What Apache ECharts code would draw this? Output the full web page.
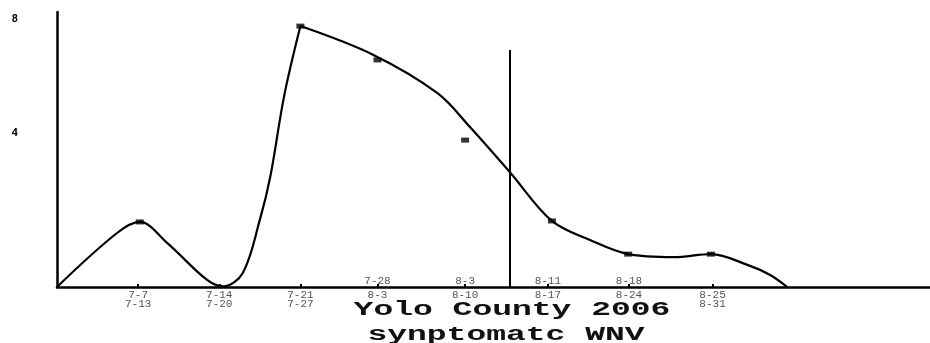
<!DOCTYPE html>
<html>
<head>
<meta charset="utf-8">
<script src="https://cdn.jsdelivr.net/npm/echarts@6/dist/echarts.min.js"></script>
<style>
  html, body { margin: 0; padding: 0; background: #fff; }
  #chart { width: 930px; height: 343px; }
</style>
</head>
<body>
<div id="chart"></div>
<script>
// week positions on the x axis as drawn (the original spacing is uneven)
var weekPos  = [1.0, 2.0, 3.0, 3.95, 5.03, 6.05, 7.05, 8.08];
// labels per week: above the axis, first and second row below
var weekTop  = ['', '', '', '7-28', '8-3', '8-11', '8-18', ''];
var weekRow1 = ['7-7', '7-14', '7-21', '8-3', '8-10', '8-17', '8-24', '8-25'];
var weekRow2 = ['7-13', '7-20', '7-27', '', '', '', '', '8-31'];

// weekly case counts (markers)
var caseWeeks = [1.02, 3.0, 3.95, 5.03, 6.1, 7.04, 8.06];
var caseCounts = [1.94, 7.78, 6.77, 4.38, 1.97, 0.98, 0.98];

// hand drawn trend curve, up to the peak and after it
var riseX = [0, 0.74, 1.02, 1.36, 1.85, 2.05, 2.29, 2.5, 2.63, 2.8, 3.0];
var riseY = [0, 1.61, 1.94, 1.31, 0.21, 0.02, 0.42, 2.0, 3.3, 5.7, 7.78];
var fallX = [3.0, 3.9, 4.69, 5.09, 5.59, 6.1, 6.57, 7.04, 7.6, 8.06, 8.51, 8.79, 9.0];
var fallY = [7.78, 6.92, 5.78, 4.77, 3.40, 1.97, 1.40, 0.98, 0.89, 0.98, 0.66, 0.36, 0];

var yTicks = [4, 8];
var cutoffWeek = 5.585;
var cutoffTop = 7.07;
var titleLines = ['Yolo County 2006', 'synptomatc WNV'];

var myChart = echarts.init(document.getElementById('chart'), null, { renderer: 'canvas' });

var labelFont = {
  fontFamily: '"Liberation Mono", monospace',
  fontSize: 11,
  lineHeight: 11,
  color: '#555'
};

function labelAt(labels, v) {
  for (var i = 0; i < weekPos.length; i++) {
    if (Math.abs(weekPos[i] - v) < 1e-6) return labels[i];
  }
  return '';
}

function rowAxis(labels, margin, showLine) {
  return {
    type: 'value',
    gridIndex: 0,
    position: 'bottom',
    min: 0,
    max: 10.76,
    splitLine: { show: false },
    axisLine: { show: showLine, onZero: false, lineStyle: { color: '#000', width: 2.5 } },
    axisTick: {
      show: showLine,
      inside: true,
      length: 3,
      customValues: weekPos,
      lineStyle: { color: '#000', width: 2 }
    },
    axisLabel: Object.assign({
      margin: margin,
      customValues: weekPos,
      formatter: function (v) { return labelAt(labels, v); }
    }, labelFont)
  };
}

function trend(xs, ys) {
  return {
    type: 'line',
    smooth: 0.35,
    showSymbol: false,
    data: xs.map(function (x, i) { return [x, ys[i]]; }),
    lineStyle: { color: '#000', width: 2.2 }
  };
}

var rise = trend(riseX, riseY);
var fall = trend(fallX, fallY);
fall.markLine = {
  silent: true,
  symbol: 'none',
  label: { show: false },
  lineStyle: { color: '#000', width: 2, type: 'solid' },
  data: [[{ coord: [cutoffWeek, 0] }, { coord: [cutoffWeek, cutoffTop] }]]
};

var option = {
  animation: false,
  backgroundColor: '#fff',
  grid: { left: 57, right: 0, top: 12, bottom: 56, outerBoundsMode: 'none' },
  xAxis: [
    rowAxis(weekRow1, 3, true),
    rowAxis(weekRow2, 12, false),
    rowAxis(weekTop, -11, false)
  ],
  yAxis: {
    type: 'value',
    min: 0,
    max: 8.2,
    splitLine: { show: false },
    axisTick: { show: false },
    axisLine: { show: true, lineStyle: { color: '#000', width: 2.5 } },
    axisLabel: {
      margin: 39,
      customValues: yTicks,
      fontFamily: '"DejaVu Sans Mono", monospace',
      fontWeight: 'bold',
      fontSize: 11,
      color: '#000',
      formatter: function (v) {
        return v === 4 ? '{up|4}' : String(v);
      },
      rich: {
        up: { fontFamily: '"DejaVu Sans Mono", monospace', fontWeight: 'bold', fontSize: 11, color: '#000', padding: [0, 0, 40, 0] }
      }
    }
  },
  series: [
    rise,
    fall,
    {
      type: 'scatter',
      symbol: 'rect',
      symbolSize: [8, 5],
      itemStyle: { color: '#000' },
      data: caseWeeks.map(function (w, i) { return [w, caseCounts[i]]; })
    }
  ],
  graphic: [
    {
      type: 'text',
      x: 512, y: 310, scaleX: 1.65,
      style: {
        text: titleLines[0],
        font: 'bold 20px "Liberation Mono"',
        fill: '#111',
        textAlign: 'center', textVerticalAlign: 'middle',
        align: 'center', verticalAlign: 'middle'
      }
    },
    {
      type: 'text',
      x: 506, y: 335, scaleX: 1.65,
      style: {
        text: titleLines[1],
        font: 'bold 20px "Liberation Mono"',
        fill: '#111',
        textAlign: 'center', textVerticalAlign: 'middle',
        align: 'center', verticalAlign: 'middle'
      }
    }
  ]
};

myChart.setOption(option);
</script>
</body>
</html>
